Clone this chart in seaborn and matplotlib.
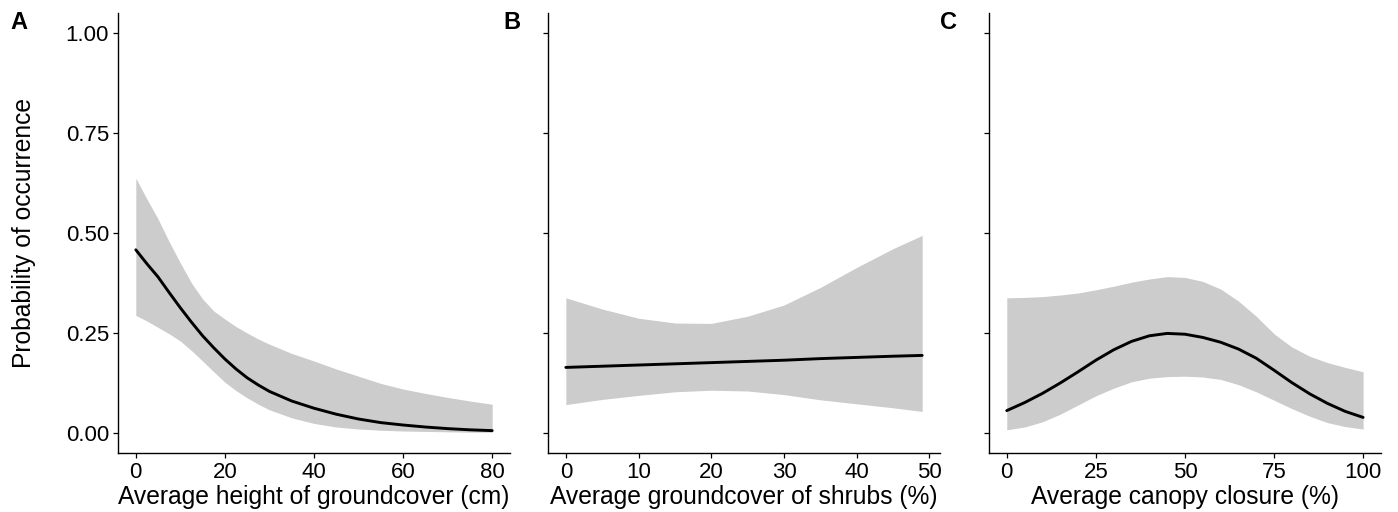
import pandas as pd
import matplotlib
matplotlib.use('Agg')
import matplotlib.pyplot as plt
import seaborn as sns

# panel A - groundcover height (cm)
height_x = [0, 2.5, 5, 7.5, 10, 12.5, 15, 17.5, 20, 22.5, 25, 27.5, 30, 35, 40, 45, 50,
            55, 60, 65, 70, 75, 80]
height_fit = [0.458, 0.423, 0.390, 0.351, 0.313, 0.277, 0.243, 0.213, 0.185, 0.160, 0.138,
              0.120, 0.104, 0.080, 0.062, 0.047, 0.035, 0.026, 0.020, 0.015, 0.011, 0.008, 0.006]
height_hi = [0.637, 0.585, 0.535, 0.478, 0.425, 0.375, 0.335, 0.305, 0.285, 0.266, 0.250,
             0.235, 0.222, 0.199, 0.180, 0.160, 0.142, 0.124, 0.110, 0.099, 0.089, 0.080, 0.072]
height_lo = [0.294, 0.280, 0.264, 0.248, 0.230, 0.206, 0.180, 0.153, 0.127, 0.106, 0.088,
             0.072, 0.058, 0.038, 0.024, 0.015, 0.010, 0.007, 0.005, 0.004, 0.003, 0.002, 0.002]

# panel B - shrub cover (%)
shrub_x = [0, 5, 10, 15, 20, 25, 30, 35, 40, 45, 49]
shrub_fit = [0.164, 0.167, 0.170, 0.173, 0.176, 0.179, 0.182, 0.186, 0.189, 0.192, 0.194]
shrub_hi = [0.338, 0.310, 0.287, 0.275, 0.274, 0.292, 0.320, 0.364, 0.414, 0.461, 0.494]
shrub_lo = [0.071, 0.084, 0.094, 0.103, 0.107, 0.105, 0.096, 0.083, 0.073, 0.063, 0.054]

# panel C - canopy closure (%)
canopy_x = [0, 5, 10, 15, 20, 25, 30, 35, 40, 45, 50, 55, 60, 65, 70, 75, 80, 85, 90, 95, 100]
canopy_fit = [0.056, 0.076, 0.099, 0.125, 0.153, 0.182, 0.208, 0.229, 0.243, 0.249, 0.247,
              0.239, 0.227, 0.210, 0.187, 0.157, 0.126, 0.098, 0.074, 0.054, 0.039]
canopy_hi = [0.338, 0.339, 0.341, 0.345, 0.350, 0.358, 0.367, 0.377, 0.385, 0.391, 0.389,
             0.379, 0.360, 0.330, 0.292, 0.248, 0.215, 0.192, 0.176, 0.164, 0.153]
canopy_lo = [0.008, 0.015, 0.028, 0.047, 0.070, 0.093, 0.112, 0.128, 0.137, 0.141, 0.142,
             0.140, 0.134, 0.121, 0.103, 0.082, 0.061, 0.042, 0.026, 0.016, 0.010]

sns.set_theme(style="ticks")
plt.rcParams['font.family'] = ['Liberation Sans', 'DejaVu Sans']

panels = [
    ('A', height_x, height_fit, height_lo, height_hi, 'Average height of groundcover (cm)', [0, 20, 40, 60, 80]),
    ('B', shrub_x, shrub_fit, shrub_lo, shrub_hi, 'Average groundcover of shrubs (%)', [0, 10, 20, 30, 40, 50]),
    ('C', canopy_x, canopy_fit, canopy_lo, canopy_hi, 'Average canopy closure (%)', [0, 25, 50, 75, 100]),
]
lefts = [0.0844, 0.392, 0.7074]
tag_x = [0.0072, 0.3598, 0.6724]

fig = plt.figure(figsize=(13.98, 5.12), dpi=100)
for i, (tag, x, fit, lo, hi, xlab, xt) in enumerate(panels):
    ax = fig.add_axes([lefts[i], 0.1152, 0.2804, 0.8594])
    df = pd.DataFrame({'x': x, 'fit': fit})
    ax.fill_between(x, lo, hi, color='#CCCCCC', linewidth=0)
    sns.lineplot(data=df, x='x', y='fit', color='black', linewidth=2.1, ax=ax)
    span = x[-1] - x[0]
    ax.set_xlim(x[0] - 0.05 * span, x[-1] + 0.05 * span)
    ax.set_ylim(-0.05, 1.05)
    ax.set_xticks(xt)
    ax.set_yticks([0, 0.25, 0.5, 0.75, 1.0])
    if i == 0:
        ax.set_yticklabels(['0.00', '0.25', '0.50', '0.75', '1.00'])
        ax.set_ylabel('Probability of occurrence', fontsize=17.7, color='black', labelpad=21)
    else:
        ax.set_yticklabels([])
        ax.set_ylabel('')
    ax.set_xlabel(xlab, fontsize=17.7, color='black', labelpad=1.5)
    for s in ['top', 'right']:
        ax.spines[s].set_visible(False)
    for s in ['left', 'bottom']:
        ax.spines[s].set_color('black')
        ax.spines[s].set_linewidth(1.0)
    ax.tick_params(axis='both', length=3.5, width=0.9, color='black', labelsize=16,
                   labelcolor='black', pad=3)
    fig.text(tag_x[i], 0.957, tag, fontsize=17, fontweight='bold', color='black',
             ha='left', va='center')

fig.savefig('out.png', dpi=100)
